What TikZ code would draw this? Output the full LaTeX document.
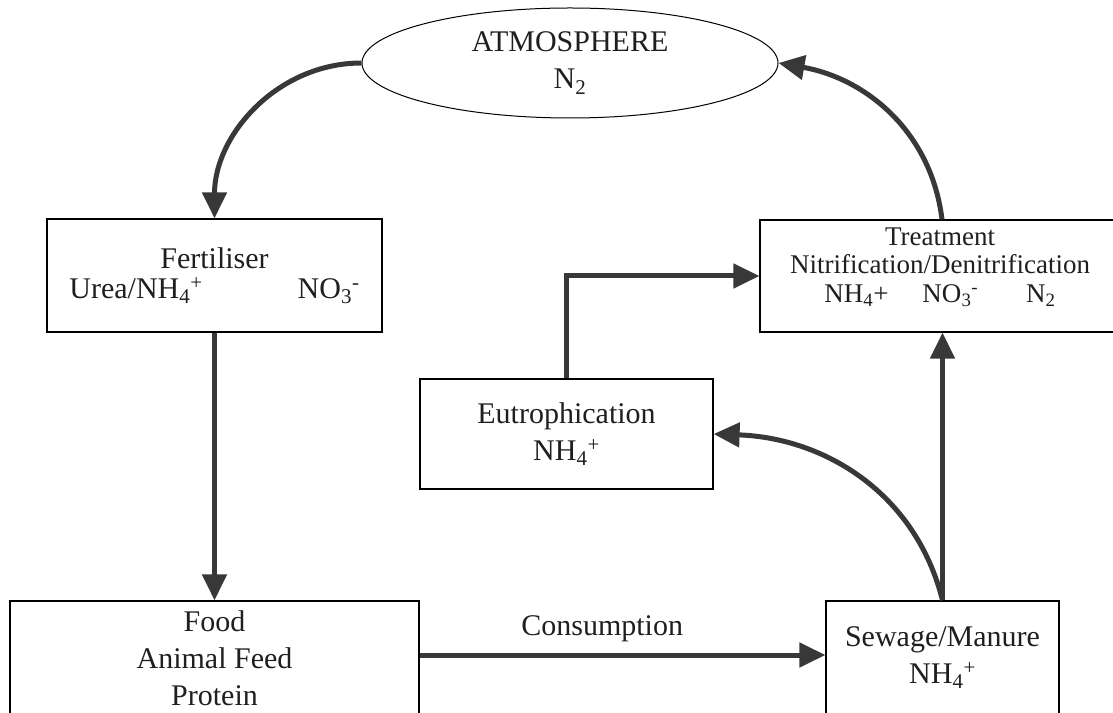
\documentclass[tikz,border=0pt]{standalone}
\usepackage{fontspec}
\setmainfont{Liberation Serif}
\usetikzlibrary{arrows.meta,shapes.geometric,calc}
\begin{document}
\begin{tikzpicture}[x=1pt,y=1pt,
  box/.style={draw=black, line width=1.2pt, rectangle, inner sep=0pt, align=center,
    font=\fontsize{30}{37}\selectfont, text=black!88},
  flow/.style={draw=black!78, line width=5pt, line join=miter,
    -{Triangle[length=26pt,width=24pt]}},
  lbl/.style={inner sep=0pt, align=center, text=black!88},
]
\useasboundingbox (0,0) rectangle (1113,712);
\clip (0,0) rectangle (1113,712);

% stores and processes of the nitrogen cycle
\node[box, ellipse, line width=1pt, minimum width=416pt, minimum height=110pt]
  (atm) at (570,649) {ATMOSPHERE\\N\textsubscript{2}};
\node[box, minimum width=335pt, minimum height=113pt, font=\fontsize{30}{30}\selectfont]
  (fert) at (214.5,436.5)
  {Fertiliser\\Urea/NH\textsubscript{4}\textsuperscript{+}\hspace{95pt}NO\textsubscript{3}\textsuperscript{-}};
\node[box, minimum width=360pt, minimum height=112pt] (treat) at (940,436) {};
\node[lbl, font=\fontsize{27}{28.5}\selectfont] (treattxt) at (940,445)
  {Treatment\\Nitrification/Denitrification\\NH\textsubscript{4}+\hspace{34pt}NO\textsubscript{3}\textsuperscript{-}\hspace{48pt}N\textsubscript{2}};
\node[box, minimum width=293pt, minimum height=110pt] (eut) at (566.5,278)
  {Eutrophication\\NH\textsubscript{4}\textsuperscript{+}};
\node[box, minimum width=409pt, minimum height=114pt] (food) at (214.5,54)
  {Food\\Animal Feed\\Protein};
\node[box, minimum width=233pt, minimum height=113pt] (sew) at (942.5,54.5)
  {Sewage/Manure\\NH\textsubscript{4}\textsuperscript{+}};

% flows
\draw[flow] (atm.west) to[out=180,in=90] (fert.north);
\draw[flow] ([xshift=2pt]treat.north) to[out=97,in=-10] (atm.east);
\draw[flow] (fert.south) -- (food.north);
\draw[flow] ([yshift=3pt]food.east) -- node[lbl, pos=0.45, above=11pt,
  font=\fontsize{30}{37}\selectfont] (cons) {Consumption} ([yshift=3pt]food.east -| sew.west);
\draw[flow] (sew.north) -- (sew.north |- treat.south);
\draw[flow] (sew.north) to[out=104,in=-2] (eut.east);
\draw[flow] (eut.north) |- (treat.west);
\end{tikzpicture}
\end{document}
